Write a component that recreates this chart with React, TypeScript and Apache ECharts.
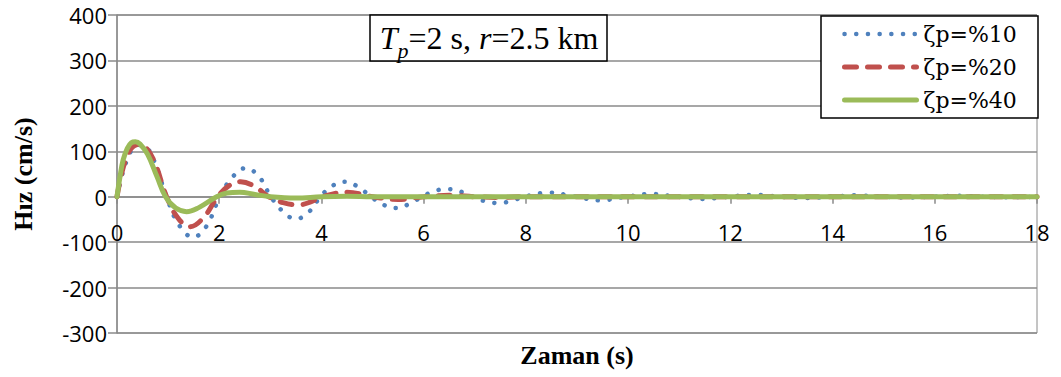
import React, { useEffect, useRef } from "react";
import * as echarts from "echarts";

// Time (s) and velocity (cm/s)
const timeP10 = [0, 0.1, 0.2, 0.3, 0.45, 0.6, 0.75, 0.97, 1.2, 1.49, 1.75, 2.0, 2.25, 2.52, 2.78, 3.0, 3.25, 3.5, 3.75, 3.98, 4.2, 4.45, 4.7, 4.97, 5.2, 5.45, 5.7, 5.97, 6.2, 6.45, 6.7, 6.97, 7.2, 7.45, 7.7, 7.97, 8.45, 8.97, 9.45, 9.97, 10.45, 10.97, 11.45, 11.97, 12.45, 12.97, 13.45, 13.97, 14.45, 14.97, 15.45, 15.97, 16.45, 16.97, 17.45, 18];
const velP10 = [0, 48, 82, 104, 114, 106, 72, 0, -60, -89, -65, -3, 42, 63, 44, 2, -33, -49, -34, 0, 23, 33, 23, 0, -17, -25, -17, 0, 12, 17, 12, 0, -10, -14, -10, 0, 9, 0, -8, 0, 6, 0, -5, 0, 4, 0, -3, 0, 3, 0, -2, 0, 2, 0, -1, 0];

const timeP20 = [0, 0.1, 0.2, 0.3, 0.43, 0.58, 0.75, 0.97, 1.2, 1.43, 1.7, 1.97, 2.2, 2.42, 2.7, 2.97, 3.25, 3.55, 3.8, 4.02, 4.5, 5.0, 5.5, 6.0, 6.5, 7.0, 7.5, 8.0, 9.0, 18];
const velP20 = [0, 55, 90, 109, 115, 106, 72, 0, -48, -66, -45, 0, 25, 33, 22, 0, -13, -18, -11, 0, 10, 0, -6, 0, 3, 0, -1.5, 0, 0, 0];

const timeP40 = [0, 0.06, 0.12, 0.2, 0.28, 0.36, 0.45, 0.6, 0.78, 0.95, 1.15, 1.36, 1.6, 1.95, 2.15, 2.4, 2.7, 3.0, 3.5, 4.0, 4.5, 5.0, 18];
const velP40 = [0, 45, 81, 106, 119, 121, 116, 93, 45, 0, -25, -33, -24, 0, 8, 10, 5, 0, -3, 0, 1, 0, 0];

const seriesNames = ["ζp=%10", "ζp=%20", "ζp=%40"];
const xTitle = "Zaman (s)";
const yTitle = "Hız (cm/s)";
const yMin = -300;
const yMax = 400;

const pairs = (t: number[], v: number[]) => t.map((x, i) => [x, v[i]]);

const BLUE = "#4F81BD";
const RED = "#C0504D";
const GREEN = "#9BBB59";
const GRAY = "#8a8a8a";

const styles = [
  { width: 4.5, type: [0.1, 11.6], cap: "round", color: BLUE },
  { width: 5, type: [12, 11], cap: "round", color: RED },
  { width: 5, type: "solid", cap: "round", color: GREEN },
];

const GRID_TOP = 15;
const GRID_BOTTOM = 44;
const H = 377;

export default function App() {
  const ref = useRef<HTMLDivElement>(null);
  useEffect(() => {
    if (!ref.current) return;
    const chart = echarts.init(ref.current, null, { renderer: "svg" });
    const axisFont = { fontFamily: "Open Sans", fontSize: 22, color: "#000" };
    const datasets = [pairs(timeP10, velP10), pairs(timeP20, velP20), pairs(timeP40, velP40)];
    const plotH = H - GRID_TOP - GRID_BOTTOM;
    // move the x axis from the grid's bottom up to the y = 0 line
    const zeroOffset = -(plotH * (0 - yMin)) / (yMax - yMin);
    chart.setOption({
      animation: false,
      backgroundColor: "#fff",
      grid: { left: 117, right: 24, top: GRID_TOP, bottom: GRID_BOTTOM, show: true, borderColor: GRAY, borderWidth: 1 },
      xAxis: {
        type: "value",
        min: 0,
        max: 18,
        interval: 2,
        offset: zeroOffset,
        axisLine: { onZero: false, lineStyle: { color: GRAY, width: 1.5 } },
        axisTick: { show: true, length: 7, lineStyle: { color: GRAY, width: 1.5 } },
        axisLabel: { ...axisFont, margin: 24 },
        splitLine: { show: false },
      },
      yAxis: {
        type: "value",
        min: yMin,
        max: yMax,
        interval: 100,
        axisLine: { show: true, onZero: false, lineStyle: { color: GRAY, width: 1.5 } },
        axisTick: { show: true, length: 9, lineStyle: { color: GRAY, width: 1.5 } },
        axisLabel: { ...axisFont, margin: 10 },
        splitLine: { show: true, lineStyle: { color: GRAY, width: 1.5 } },
      },
      legend: {
        orient: "vertical",
        left: 842,
        top: 23,
        padding: 0,
        itemGap: 11,
        itemWidth: 72,
        itemHeight: 14,
        z: 5,
        itemStyle: { opacity: 0 },
        textStyle: { fontFamily: "DejaVu Serif", fontSize: 22, color: "#000", padding: [0, 0, 0, 2] },
        data: seriesNames.map((n, i) => ({
          name: n,
          itemStyle: { opacity: 0 },
          lineStyle: { ...styles[i], opacity: 1 },
        })),
      },
      graphic: [
        {
          type: "rect",
          z: 3,
          shape: { x: 821, y: 16, width: 217, height: 102 },
          style: { fill: "#fff", stroke: "#000", lineWidth: 1.5 },
        },
        {
          type: "rect",
          z: 3,
          shape: { x: 370, y: 15, width: 237, height: 46 },
          style: { fill: "#fff", stroke: "#000", lineWidth: 1.5 },
        },
        {
          type: "text",
          z: 4,
          x: 489,
          y: 38,
          style: {
            text: "{i|T}{s|p}{n|=2 s, }{i|r}{n|=2.5 km}",
            align: "center",
            verticalAlign: "middle",
            fill: "#000",
            rich: {
              i: { fontFamily: "Liberation Serif", fontStyle: "italic", fontSize: 32, fill: "#000" },
              s: { fontFamily: "Liberation Serif", fontStyle: "italic", fontSize: 22, fill: "#000", padding: [24, 0, 0, 0] },
              n: { fontFamily: "Liberation Serif", fontSize: 32, fill: "#000" },
            },
          },
        },
        {
          type: "text",
          z: 4,
          x: 577,
          y: 355,
          style: {
            text: xTitle,
            align: "center",
            verticalAlign: "middle",
            fontFamily: "Liberation Serif",
            fontWeight: "bold",
            fontSize: 26,
            fill: "#000",
          },
        },
        {
          type: "text",
          z: 4,
          x: 23,
          y: 174,
          rotation: Math.PI / 2,
          style: {
            text: yTitle,
            align: "center",
            verticalAlign: "middle",
            fontFamily: "Liberation Serif",
            fontWeight: "bold",
            fontSize: 26,
            fill: "#000",
          },
        },
      ],
      series: seriesNames.map((n, i) => ({
        name: n,
        type: "line",
        data: datasets[i],
        smooth: 0.4,
        symbol: "none",
        showSymbol: false,
        z: 2 + i,
        lineStyle: { ...styles[i] },
        itemStyle: { color: styles[i].color },
      })),
    });
    return () => chart.dispose();
  }, []);
  return <div ref={ref} style={{ position: "fixed", left: 0, top: 0, width: 1061, height: 377 }} />;
}
